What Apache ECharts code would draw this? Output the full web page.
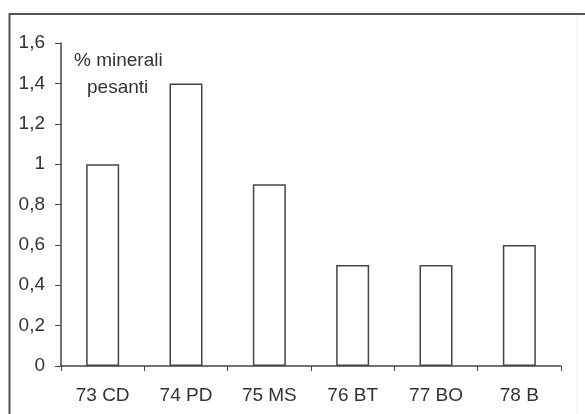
<!DOCTYPE html>
<html><head><meta charset="utf-8">
<script src="https://cdn.jsdelivr.net/npm/echarts@6/dist/echarts.min.js"></script>
<style>html,body{margin:0;padding:0;background:#fff}#c{width:585px;height:414px}</style>
</head><body><div id="c"></div>
<script>
const categories = ['73 CD', '74 PD', '75 MS', '76 BT', '77 BO', '78 B'];
const values = [1.0, 1.4, 0.9, 0.5, 0.5, 0.6];
const yTicks = [0, 0.2, 0.4, 0.6, 0.8, 1.0, 1.2, 1.4, 1.6];
const annotation = ['% minerali', 'pesanti'];

const FONT = 'Liberation Sans, Arial, sans-serif';
const chart = echarts.init(document.getElementById('c'), null, {renderer: 'canvas'});
const fmt = v => String(Math.round(v * 10) / 10).replace('.', ',');
chart.setOption({
  animation: false,
  backgroundColor: '#fff',
  textStyle: {fontFamily: FONT},
  grid: {left: 61, top: 43, right: 24, bottom: 48},
  graphic: [
    {type: 'rect', shape: {x: 9.5, y: 14, width: 567.5, height: 420},
     style: {fill: 'none', stroke: '#f0f0f0', lineWidth: 1}, silent: true},
    {type: 'polyline', shape: {points: [[9.5, 420], [9.5, 14], [585, 14]]},
     style: {fill: 'none', stroke: '#555', lineWidth: 2}, silent: true},
    {type: 'text', left: 74, top: 51,
     style: {text: annotation[0], fontSize: 19, fill: '#333', fontFamily: FONT}},
    {type: 'text', left: 87, top: 78,
     style: {text: annotation[1], fontSize: 19, fill: '#333', fontFamily: FONT}}
  ],
  xAxis: {
    type: 'category', data: categories,
    axisLine: {lineStyle: {color: '#444', width: 1.5}},
    axisTick: {show: true, inside: false, length: 5, lineStyle: {color: '#444'}},
    axisLabel: {color: '#333', fontSize: 19, margin: 20}
  },
  yAxis: {
    type: 'value', min: yTicks[0], max: yTicks[yTicks.length - 1], interval: 0.2,
    splitLine: {show: false},
    axisLine: {show: true, lineStyle: {color: '#444', width: 1.5}},
    axisTick: {show: true, length: 6, lineStyle: {color: '#444'}},
    axisLabel: {color: '#333', fontSize: 19, margin: 16, formatter: fmt}
  },
  series: [{
    type: 'bar', data: values, barWidth: 33,
    itemStyle: {color: '#fff', borderColor: '#444', borderWidth: 1.5}
  }]
});
</script></body></html>
